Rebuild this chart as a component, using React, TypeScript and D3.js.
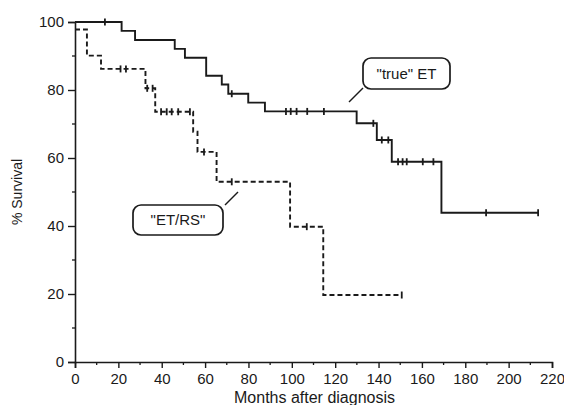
import React from "react";
import * as d3 from "d3";

// "true" ET group (solid line)
const trueEtMonths = [0, 21.5, 27.7, 46, 50.7, 60.5, 67.7, 70.7, 79.9, 87.6, 129.9, 139.2, 146.1, 169, 213.6];
const trueEtSurvival = [100, 97.4, 94.7, 92.1, 89.5, 84.2, 81.6, 78.9, 76.3, 73.7, 70.2, 65.3, 58.9, 43.9, 43.9];
const trueEtCensored = [13.8, 72.3, 97.3, 99.5, 102.2, 107.1, 114.8, 137.6, 141.5, 144.5, 149, 151.1, 153, 160.4, 165.3, 189.6, 213.6];

// "ET/RS" group (dashed line)
const etrsMonths = [0, 5.5, 12, 32.5, 37, 54.5, 56.5, 65.3, 99.2, 114.5, 150.7];
const etrsSurvival = [97.8, 90.1, 86.2, 80.5, 73.6, 67.7, 61.8, 53.0, 39.8, 19.7, 19.7];
const etrsCensored = [21, 23.5, 33.3, 35.8, 39.7, 42.3, 44.6, 47.6, 53, 59.5, 72.3, 106.9, 150.7];

const xTicks = [0, 20, 40, 60, 80, 100, 120, 140, 160, 180, 200, 220];
const yTicks = [0, 20, 40, 60, 80, 100];

type Pt = { m: number; s: number };

function zipCurve(months: number[], surv: number[]): Pt[] {
  return months.map((m, i) => ({ m, s: surv[i] }));
}

// survival value of a step curve at a given month
function levelAt(curve: Pt[], m: number): number {
  let v = curve[0].s;
  for (const p of curve) if (p.m <= m) v = p.s;
  return v;
}

function drawChart(svgRef: React.RefObject<SVGSVGElement | null>) {
  const w = 564;
  const h = 405;
  const ink = "#1a1a1a";
  const svg = d3.select(svgRef.current);
  svg.selectAll("*").remove();
  svg.attr("width", w).attr("height", h);

  const x = d3.scaleLinear().domain([0, 220]).range([75, 552]);
  const y = d3.scaleLinear().domain([0, 100]).range([362, 22]);
  const font = "'Liberation Sans', Arial, sans-serif";

  // axes
  const xAxis = svg.append("g").attr("transform", `translate(0,${y(0)})`);
  xAxis
    .call(d3.axisBottom(x).tickValues(xTicks).tickSize(6).tickPadding(5).tickFormat(d3.format("d")))
    .call(g => g.select(".domain").attr("stroke", ink).attr("stroke-width", 1.6))
    .call(g => g.selectAll(".tick line").attr("stroke", ink).attr("stroke-width", 1.4))
    .call(g => g.selectAll(".tick text").attr("fill", ink).attr("font-size", 15).attr("font-family", font));
  xAxis
    .selectAll(".minor")
    .data(d3.range(10, 220, 20))
    .join("line")
    .attr("x1", d => x(d))
    .attr("x2", d => x(d))
    .attr("y1", 0)
    .attr("y2", 3)
    .attr("stroke", ink)
    .attr("stroke-width", 1.3);

  const yAxis = svg.append("g").attr("transform", `translate(${x(0)},0)`);
  yAxis
    .call(d3.axisLeft(y).tickValues(yTicks).tickSize(7).tickPadding(4).tickFormat(d3.format("d")))
    .call(g => g.select(".domain").attr("stroke", ink).attr("stroke-width", 1.6))
    .call(g => g.selectAll(".tick line").attr("stroke", ink).attr("stroke-width", 1.4))
    .call(g => g.selectAll(".tick text").attr("fill", ink).attr("font-size", 15).attr("font-family", font));
  yAxis
    .selectAll(".minor")
    .data(d3.range(10, 100, 20))
    .join("line")
    .attr("x1", -3)
    .attr("x2", 0)
    .attr("y1", d => y(d))
    .attr("y2", d => y(d))
    .attr("stroke", ink)
    .attr("stroke-width", 1.3);

  // axis titles
  svg
    .append("text")
    .attr("x", (x(0) + x(220)) / 2 + 1)
    .attr("y", 403)
    .attr("text-anchor", "middle")
    .attr("font-size", 16)
    .attr("font-family", font)
    .attr("fill", ink)
    .text("Months after diagnosis");
  svg
    .append("text")
    .attr("transform", `translate(22,${y(50)}) rotate(-90)`)
    .attr("text-anchor", "middle")
    .attr("font-size", 14)
    .attr("font-family", font)
    .attr("fill", ink)
    .text("% Survival");

  const line = d3
    .line<Pt>()
    .x(p => x(p.m))
    .y(p => y(p.s))
    .curve(d3.curveStepAfter);

  const groups = [
    { curve: zipCurve(trueEtMonths, trueEtSurvival), censored: trueEtCensored, dash: null },
    { curve: zipCurve(etrsMonths, etrsSurvival), censored: etrsCensored, dash: "5,3" },
  ];

  groups.forEach(gr => {
    svg
      .append("path")
      .datum(gr.curve)
      .attr("fill", "none")
      .attr("stroke", ink)
      .attr("stroke-width", 1.9)
      .attr("stroke-dasharray", gr.dash)
      .attr("d", line);
    svg
      .append("g")
      .selectAll("line")
      .data(gr.censored)
      .join("line")
      .attr("x1", d => x(d))
      .attr("x2", d => x(d))
      .attr("y1", d => y(levelAt(gr.curve, d)) - 3.5)
      .attr("y2", d => y(levelAt(gr.curve, d)) + 3.5)
      .attr("stroke", ink)
      .attr("stroke-width", 1.8);
  });

  // callout labels
  const callouts = [
    { label: "\"true\" ET", box: [363, 58, 87, 31], lead: [349, 102, 363, 88] },
    { label: "\"ET/RS\"", box: [133, 205, 90, 30], lead: [225, 205, 238, 192] },
  ];
  callouts.forEach(c => {
    const [bx, by, bw, bh] = c.box;
    svg
      .append("rect")
      .attr("x", bx)
      .attr("y", by)
      .attr("width", bw)
      .attr("height", bh)
      .attr("rx", 8)
      .attr("fill", "white")
      .attr("stroke", ink)
      .attr("stroke-width", 1.7);
    svg
      .append("text")
      .attr("x", bx + bw / 2)
      .attr("y", by + bh / 2 + 5)
      .attr("text-anchor", "middle")
      .attr("font-size", 15)
      .attr("font-family", font)
      .attr("fill", ink)
      .text(c.label);
    svg
      .append("line")
      .attr("x1", c.lead[0])
      .attr("y1", c.lead[1])
      .attr("x2", c.lead[2])
      .attr("y2", c.lead[3])
      .attr("stroke", ink)
      .attr("stroke-width", 1.5);
  });
}

export default function App() {
  const svg = React.useRef<SVGSVGElement>(null);

  React.useEffect(() => {
    drawChart(svg);
  }, []);

  return (
    <div style={{ position: "absolute", left: 0, top: 0, background: "white" }}>
      <svg ref={svg} style={{ display: "block" }} />
    </div>
  );
}
